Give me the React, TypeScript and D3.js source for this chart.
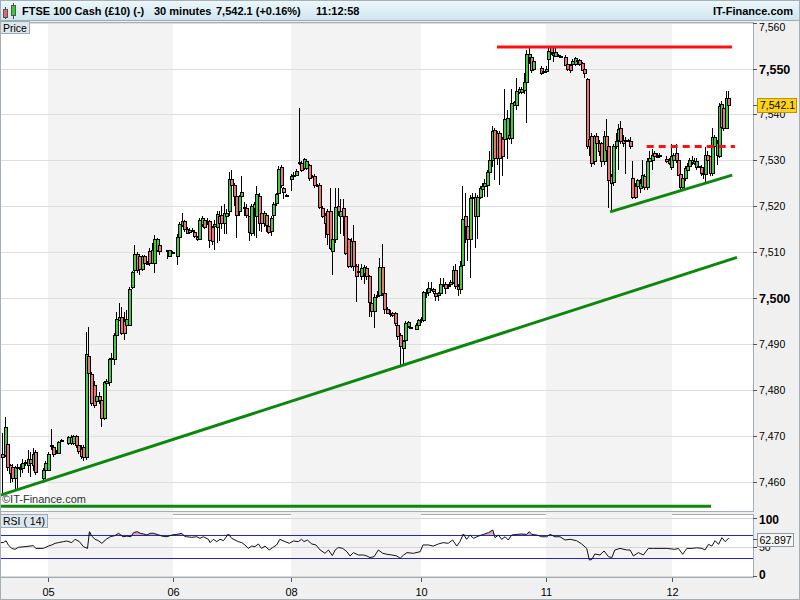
import React from 'react';
import * as d3 from 'd3';

const FONT = '"Liberation Sans", Arial, Helvetica, sans-serif';

// 30-minute candles [open, high, low, close]; null = empty slot
type Candle = [number, number, number, number] | null;
const ohlc: Candle[] = [
  [7466.2, 7470.6, 7457.5, 7465.4], [7465.9, 7474.2, 7465.5, 7471.9], [7468.3, 7469.0, 7462.5, 7463.3], [7463.7, 7464.0, 7459.7, 7462.0],
  [7463.3, 7464.0, 7460.0, 7460.8], [7460.8, 7463.5, 7458.0, 7463.2], [7463.0, 7464.0, 7458.5, 7463.2], [7463.0, 7464.0, 7461.0, 7463.0],
  [7463.0, 7465.0, 7462.0, 7464.1], [7464.1, 7464.8, 7463.5, 7464.3], [7463.7, 7467.0, 7462.0, 7464.9], [7465.1, 7466.5, 7461.0, 7464.1],
  [7463.7, 7467.5, 7462.5, 7466.1], [7466.6, 7467.0, 7461.5, 7462.2], null, null,
  [7460.8, 7463.0, 7459.7, 7462.7], [7462.7, 7464.5, 7461.5, 7464.1], [7462.7, 7466.5, 7462.5, 7466.2], [7468.1, 7471.5, 7467.0, 7468.1],
  [7467.7, 7468.0, 7465.5, 7466.2], [7466.5, 7467.0, 7466.0, 7466.5], [7466.4, 7469.0, 7466.0, 7468.6], [7469.1, 7469.3, 7468.8, 7469.1],
  null, null,
  [7468.4, 7470.0, 7468.0, 7469.7], [7469.7, 7470.2, 7468.0, 7468.4], [7468.4, 7470.2, 7468.0, 7470.0], [7470.0, 7470.2, 7467.5, 7468.1],
  [7468.1, 7468.5, 7466.0, 7466.7], [7467.2, 7468.0, 7465.0, 7465.7], [7467.7, 7468.0, 7464.5, 7465.5], [7465.5, 7492.7, 7464.8, 7487.8],
  [7487.4, 7493.8, 7483.0, 7483.7], [7483.4, 7484.0, 7476.5, 7477.1], [7481.1, 7482.0, 7476.0, 7476.8], [7477.7, 7479.5, 7476.5, 7478.8],
  [7478.8, 7479.5, 7477.0, 7477.9], [7477.9, 7478.5, 7471.9, 7473.9], [7473.9, 7482.0, 7473.5, 7481.7], [7481.5, 7482.5, 7481.0, 7481.9],
  [7481.7, 7487.0, 7481.0, 7486.7], [7486.9, 7488.0, 7485.0, 7486.9], [7486.7, 7492.5, 7485.5, 7492.0], [7492.0, 7497.0, 7491.5, 7495.4],
  [7495.3, 7499.0, 7495.0, 7496.0], [7496.0, 7498.0, 7492.0, 7492.5], [7495.1, 7497.0, 7491.0, 7492.4], [7494.2, 7497.5, 7493.5, 7495.4],
  [7494.2, 7502.5, 7494.0, 7502.0], [7502.4, 7506.0, 7502.0, 7505.6], [7506.2, 7511.5, 7505.5, 7509.6], [7509.6, 7510.0, 7505.5, 7506.2],
  [7509.1, 7509.5, 7505.0, 7506.3], [7506.3, 7509.5, 7506.0, 7509.2], [7509.2, 7509.5, 7507.0, 7507.6], [7507.6, 7508.0, 7507.2, 7507.6],
  [7510.2, 7511.0, 7507.0, 7507.6], [7507.6, 7512.0, 7507.5, 7510.5], [7507.6, 7513.8, 7505.5, 7512.9], [7510.5, 7513.0, 7510.0, 7512.8],
  [7511.5, 7512.5, 7509.5, 7510.2], null, null,
  [7510.4, 7510.6, 7508.5, 7510.4], [7509.2, 7510.5, 7509.0, 7510.4], [7510.0, 7510.2, 7509.8, 7510.0], null,
  [7509.2, 7514.0, 7507.3, 7513.3], [7513.3, 7516.5, 7513.0, 7516.1], [7516.0, 7518.5, 7515.5, 7516.9], [7516.9, 7517.0, 7514.5, 7515.0],
  [7515.0, 7515.5, 7514.0, 7514.3], [7514.5, 7515.2, 7514.2, 7514.9], [7514.7, 7515.2, 7514.5, 7514.9], [7514.5, 7514.6, 7513.0, 7513.6],
  [7513.3, 7513.5, 7512.5, 7512.9], [7512.9, 7517.5, 7512.6, 7517.1], [7516.1, 7518.0, 7515.5, 7517.4], [7517.1, 7517.5, 7515.0, 7515.5],
  [7516.9, 7517.5, 7516.0, 7516.9], [7516.7, 7517.0, 7511.0, 7512.6], [7515.5, 7515.7, 7511.5, 7512.4], [7515.7, 7517.0, 7510.5, 7516.2],
  [7515.5, 7519.0, 7512.0, 7518.4], [7518.0, 7519.0, 7512.5, 7516.3], [7518.2, 7520.0, 7515.0, 7516.3], [7516.3, 7520.5, 7514.0, 7518.5],
  [7517.8, 7519.5, 7514.0, 7518.5], [7518.9, 7527.5, 7518.0, 7526.0], [7526.0, 7528.0, 7524.0, 7524.7], [7524.7, 7525.0, 7520.0, 7522.2],
  [7522.2, 7523.0, 7513.0, 7518.2], [7518.9, 7522.5, 7518.0, 7522.2], [7522.2, 7526.5, 7521.5, 7523.1], [7519.8, 7521.0, 7518.0, 7519.8],
  [7519.6, 7520.5, 7517.5, 7518.2], [7517.8, 7518.0, 7512.5, 7514.5], [7514.1, 7520.5, 7513.5, 7520.0], [7519.7, 7521.0, 7513.5, 7520.4],
  [7517.9, 7524.4, 7513.0, 7522.6], [7522.2, 7523.0, 7514.6, 7516.4], [7518.6, 7519.0, 7514.5, 7516.3], [7516.4, 7519.0, 7515.5, 7518.6],
  [7518.2, 7518.5, 7514.5, 7516.0], [7515.7, 7516.0, 7514.0, 7514.4], [7514.6, 7518.0, 7513.5, 7517.5], [7518.2, 7521.0, 7516.5, 7520.6],
  [7520.8, 7523.0, 7520.0, 7522.6], [7522.9, 7528.8, 7520.5, 7528.2], [7528.6, 7529.0, 7524.0, 7524.7], [7524.0, 7524.2, 7521.5, 7523.1],
  [7522.4, 7522.6, 7522.2, 7522.4], null,
  [7526.0, 7527.0, 7523.3, 7526.6], [7526.9, 7527.5, 7526.0, 7526.6], [7526.8, 7528.2, 7526.5, 7527.7], [7529.6, 7541.5, 7529.0, 7529.6],
  [7529.5, 7529.8, 7527.5, 7527.9], [7528.4, 7530.5, 7528.0, 7530.2], [7528.4, 7530.3, 7528.0, 7529.8], [7528.9, 7529.3, 7525.5, 7526.2],
  [7526.7, 7526.9, 7526.5, 7526.7], [7526.6, 7527.0, 7524.0, 7524.7], [7524.7, 7524.9, 7524.5, 7524.7], [7524.7, 7525.0, 7519.5, 7519.9],
  [7519.7, 7520.0, 7517.5, 7517.9], [7518.2, 7518.5, 7513.0, 7516.4], [7518.9, 7519.5, 7511.5, 7513.9], [7518.9, 7524.0, 7510.5, 7511.0],
  [7510.2, 7513.5, 7505.1, 7512.8], [7512.8, 7524.0, 7512.0, 7519.8], [7520.0, 7524.0, 7518.0, 7518.9], [7517.9, 7521.5, 7514.0, 7518.9],
  [7519.7, 7521.5, 7513.5, 7517.9], [7517.9, 7518.0, 7509.5, 7509.9], [7512.8, 7513.0, 7506.5, 7507.0], [7507.0, 7513.0, 7506.5, 7512.5],
  [7512.4, 7516.0, 7506.0, 7507.0], [7507.0, 7507.5, 7499.1, 7504.8], [7505.9, 7507.5, 7505.0, 7505.9], [7504.8, 7507.5, 7504.0, 7506.6],
  [7505.4, 7507.2, 7503.0, 7506.8], [7506.6, 7507.0, 7504.0, 7504.8], [7504.8, 7505.0, 7495.9, 7499.1], [7499.0, 7499.5, 7496.0, 7497.2],
  [7497.2, 7501.0, 7493.5, 7500.3], [7500.4, 7501.5, 7500.0, 7500.8], [7500.8, 7508.8, 7500.5, 7506.8], [7506.8, 7511.7, 7500.5, 7501.1],
  [7501.1, 7501.5, 7496.5, 7497.7], [7497.7, 7498.0, 7496.5, 7496.8], [7496.8, 7497.5, 7496.0, 7496.8], [7496.8, 7497.0, 7496.0, 7496.4],
  [7496.8, 7497.0, 7494.0, 7494.6], [7494.2, 7494.5, 7491.0, 7491.7], [7492.1, 7492.5, 7485.2, 7489.5], [7489.2, 7491.0, 7485.2, 7490.6],
  [7491.0, 7495.0, 7490.5, 7494.6], [7494.0, 7495.0, 7493.5, 7494.8], [7493.7, 7493.9, 7493.5, 7493.7], null,
  [7493.2, 7494.5, 7493.0, 7494.1], [7494.1, 7495.5, 7493.5, 7495.2], [7495.5, 7496.0, 7494.5, 7495.2], [7495.2, 7501.6, 7494.8, 7501.4],
  [7501.4, 7502.0, 7500.0, 7501.4], [7501.4, 7503.5, 7500.5, 7502.2], [7502.0, 7503.5, 7501.5, 7502.0], [7502.0, 7502.2, 7501.0, 7501.5],
  [7501.1, 7501.5, 7499.5, 7500.4], [7500.6, 7501.3, 7499.5, 7501.1], [7501.1, 7504.5, 7500.8, 7503.0], [7503.0, 7504.3, 7502.5, 7503.0],
  [7503.0, 7503.5, 7501.0, 7502.3], [7502.9, 7503.2, 7502.0, 7502.9], [7503.0, 7504.0, 7502.5, 7503.5], [7503.5, 7507.0, 7503.0, 7506.2],
  [7506.2, 7507.5, 7502.0, 7502.6], [7502.6, 7503.0, 7500.5, 7501.9], [7501.9, 7508.0, 7501.0, 7507.1], [7507.3, 7524.4, 7504.4, 7517.3],
  [7517.9, 7523.0, 7512.0, 7515.7], [7515.7, 7516.0, 7508.0, 7512.9], [7512.8, 7522.5, 7504.4, 7521.8], [7521.8, 7523.0, 7521.0, 7522.1],
  [7522.1, 7523.0, 7511.0, 7517.9], [7517.9, 7522.5, 7512.9, 7522.1], [7522.1, 7524.4, 7521.5, 7524.0], [7523.8, 7525.1, 7523.0, 7524.4],
  [7524.5, 7526.0, 7522.0, 7525.1], [7524.7, 7528.0, 7522.0, 7527.4], [7527.4, 7532.0, 7525.0, 7530.0], [7530.0, 7537.5, 7528.5, 7536.4],
  [7536.6, 7537.0, 7525.8, 7530.5], [7536.0, 7536.5, 7529.0, 7530.5], [7536.0, 7536.5, 7524.7, 7530.5], [7534.7, 7535.0, 7526.5, 7530.9],
  [7534.7, 7545.5, 7534.0, 7538.9], [7534.9, 7541.0, 7530.3, 7539.3], [7535.6, 7536.0, 7534.5, 7534.9], [7534.9, 7545.5, 7533.5, 7542.4],
  [7542.0, 7543.0, 7542.0, 7542.6], [7542.0, 7548.0, 7541.0, 7545.1], [7545.5, 7546.0, 7544.5, 7544.9], [7544.9, 7546.0, 7544.5, 7545.5],
  [7545.3, 7549.0, 7544.5, 7547.1], [7547.1, 7554.0, 7538.2, 7553.1], [7552.4, 7555.0, 7551.0, 7553.1], [7552.4, 7553.0, 7549.0, 7549.7],
  [7549.9, 7552.0, 7549.5, 7551.7], null, null,
  [7550.2, 7550.5, 7548.5, 7549.1], [7549.5, 7549.7, 7549.3, 7549.5], [7549.5, 7550.5, 7549.0, 7550.0], [7552.0, 7554.5, 7550.0, 7553.9],
  [7554.6, 7555.0, 7553.0, 7553.5], [7552.9, 7554.0, 7551.5, 7553.4], [7552.8, 7554.5, 7552.5, 7553.6], [7552.9, 7553.1, 7552.7, 7552.9],
  [7552.8, 7553.0, 7552.6, 7552.8], null,
  [7552.4, 7553.0, 7550.5, 7550.7], [7550.9, 7551.0, 7549.5, 7550.0], [7550.7, 7551.0, 7549.0, 7549.7], [7550.9, 7552.0, 7550.5, 7551.7],
  [7550.9, 7552.5, 7550.5, 7552.2], [7551.9, 7552.1, 7551.7, 7551.9], [7551.9, 7552.0, 7550.5, 7550.9], [7551.2, 7551.5, 7549.5, 7549.7],
  [7549.9, 7550.0, 7548.0, 7549.0], [7547.8, 7548.0, 7532.5, 7533.1], [7534.7, 7535.0, 7531.0, 7533.1], [7535.3, 7536.0, 7528.5, 7529.4],
  [7529.8, 7535.6, 7529.0, 7535.3], [7535.4, 7536.0, 7533.0, 7533.8], [7533.8, 7534.5, 7531.0, 7532.0], [7533.8, 7534.0, 7528.5, 7529.8],
  [7529.8, 7536.5, 7529.0, 7535.4], [7535.3, 7539.0, 7531.5, 7532.3], [7533.1, 7534.0, 7519.6, 7525.8], [7526.5, 7527.0, 7519.2, 7525.0],
  [7525.4, 7533.5, 7524.5, 7533.2], [7533.2, 7536.0, 7532.5, 7534.2], [7534.5, 7538.0, 7528.0, 7536.9], [7537.1, 7538.5, 7533.5, 7534.2],
  [7534.5, 7535.5, 7533.0, 7533.8], [7534.5, 7535.0, 7527.0, 7534.2], [7534.5, 7534.7, 7534.3, 7534.5], [7534.2, 7535.0, 7532.5, 7533.1],
  [7526.1, 7529.8, 7521.5, 7522.1], [7524.5, 7525.0, 7521.5, 7522.1], [7524.5, 7526.0, 7523.5, 7525.8], [7523.9, 7526.0, 7523.0, 7525.0],
  [7524.5, 7530.0, 7524.0, 7526.9], [7526.6, 7527.0, 7523.5, 7524.2], [7524.2, 7530.5, 7523.5, 7529.8], [7529.8, 7532.0, 7529.0, 7530.5],
  [7530.0, 7532.5, 7528.0, 7531.2], [7531.6, 7532.0, 7530.0, 7530.9], [7530.9, 7531.5, 7530.5, 7530.9], [7530.9, 7531.5, 7530.5, 7531.2],
  null, null,
  [7530.3, 7531.0, 7529.5, 7529.8], [7530.1, 7530.5, 7529.0, 7529.4], [7528.5, 7533.5, 7528.0, 7530.9], [7530.1, 7531.5, 7530.0, 7531.2],
  [7531.6, 7533.5, 7529.5, 7530.0], [7530.1, 7530.5, 7526.5, 7526.9], [7527.1, 7527.5, 7523.5, 7524.2], [7524.2, 7526.5, 7523.5, 7526.1],
  [7526.1, 7528.8, 7525.5, 7528.3], [7527.8, 7529.5, 7527.5, 7528.8], [7528.8, 7530.5, 7528.5, 7530.1], [7530.1, 7531.0, 7529.0, 7529.6],
  [7529.4, 7530.5, 7529.0, 7529.8], [7528.5, 7530.5, 7528.0, 7529.8], [7528.8, 7529.0, 7528.6, 7528.8], [7528.5, 7529.0, 7526.5, 7527.2],
  [7527.2, 7528.0, 7526.0, 7527.2], [7527.1, 7533.0, 7525.0, 7531.2], [7531.2, 7532.0, 7529.5, 7530.1], [7530.9, 7531.0, 7526.5, 7527.2],
  [7527.2, 7537.0, 7526.5, 7535.1], [7533.2, 7535.5, 7532.0, 7535.0], [7531.2, 7534.5, 7529.0, 7533.8], [7530.9, 7542.5, 7530.5, 7541.8],
  [7537.3, 7543.0, 7537.0, 7542.2], [7541.5, 7541.8, 7536.5, 7537.1], [7537.1, 7545.1, 7536.8, 7543.6], [7543.6, 7545.1, 7541.5, 7542.1],
];

// RSI(14): [slot, value]
const rsiPoints: [number, number][] = [
  [-1.2, 57], [0.1, 57], [1.2, 60], [2.1, 52.9], [3.4, 47], [4.7, 45.4], [6, 48.9], [8.6, 50], [11.8, 51.7], [12.9, 47], [15.8, 47],
  [17.7, 51], [19.1, 52.9], [20.4, 55.7], [21.7, 56.9], [23.7, 58.6], [25, 59.7], [27, 56.9], [28.3, 62.6], [30, 58.6], [31.6, 50],
  [33.2, 47], [34, 75.7], [34.9, 68], [36.2, 62.6], [37.5, 60.3], [38.9, 55.7], [40.6, 62.6], [42.2, 67], [44.1, 69], [45.5, 72.9],
  [47.2, 67], [48.8, 68], [50.4, 67], [51.4, 74], [52.8, 75.7], [54.1, 72.9], [55.4, 71.7], [56.7, 70], [58, 72.9], [59.3, 72.9],
  [60.7, 71], [62.7, 68], [64.6, 67], [66.6, 70], [68.5, 71], [70.5, 72.9], [71.6, 68], [72.5, 67], [74.6, 66], [76.6, 67], [77.9, 64.3],
  [79.3, 67], [81.3, 62.6], [82, 56.9], [83.3, 62.6], [84.7, 58.6], [86, 62.6], [87.4, 60.3], [89.4, 71.7], [90.7, 64.3], [92.1, 61.4],
  [93.4, 58.6], [94.8, 56.9], [96.1, 52.9], [97.4, 47], [98.8, 51], [100.1, 50], [101.5, 54.6], [102.8, 47], [104.2, 51], [105.9, 44.3],
  [107.3, 48.6], [108.9, 52.9], [110.2, 62.6], [112.3, 58.6], [114, 55.7], [115.6, 59.7], [117.5, 58.6], [118.8, 62.6], [119.7, 58.6],
  [121, 61.4], [122.7, 54.6], [124.3, 52.9], [125.9, 44.3], [127.8, 38.6], [129.1, 44.3], [130.6, 34.6], [131.7, 44.3], [132.9, 48.6],
  [134.6, 47], [136.2, 41.4], [137.4, 34], [138.7, 39.7], [140.6, 35.7], [142.6, 35.7], [143.9, 34], [145.1, 31.1], [146.7, 33],
  [148.3, 44.3], [150, 38.6], [151.6, 36.9], [153.5, 35.7], [155.4, 34], [156.7, 30], [158, 35.7], [159.3, 39.7], [161.8, 38.6],
  [164.4, 41.4], [165.5, 52.9], [167.7, 52.9], [169.7, 51], [171.8, 54.6], [173.8, 56.9], [175.8, 55.7], [177.6, 61.4], [179.3, 51],
  [180.6, 58.6], [182, 71.7], [183.3, 62.6], [184.7, 70], [186.1, 64.3], [188.1, 68], [190.1, 70.9], [192.2, 74], [194, 78.6],
  [194.9, 65.4], [196.3, 70], [197.6, 62.6], [199, 67], [200.3, 61.4], [201.7, 70], [203.8, 71], [205.8, 71.7], [207.8, 71],
  [208.9, 75.7], [209.9, 71], [211.9, 70], [214, 67], [216, 67], [217.4, 71], [219.4, 67], [221.5, 67], [223.6, 61.4], [225.7, 62.6],
  [228.4, 60.3], [230.5, 54.6], [232.6, 47], [233.7, 27], [234.7, 28], [236, 37.4], [238.1, 35.7], [239.8, 42.6], [241.6, 33],
  [243, 31], [244.3, 44.3], [246.4, 47], [249.2, 44.3], [250.6, 44.3], [252, 34], [254, 39.7], [256.1, 35.7], [258.2, 47], [260.3, 47],
  [263, 47], [265.8, 47], [269.3, 45.4], [270.8, 47], [272.7, 36.9], [274.5, 47], [276.7, 47], [278.9, 48], [281.1, 47], [282.5, 44.3],
  [284, 54], [285.5, 51], [286.9, 60.3], [288.4, 54], [289.9, 65.4], [291.3, 58.6], [292.8, 64.3], [293, 62.9],
];

const dayLabels = ['05', '06', '08', '10', '11', '12'];
const daySlots = [17.6, 67, 114.7, 164.7, 215.7, 268];
const priceTicks = d3.range(7460, 7561, 10);
const rsiTicks = [0, 50, 100];
const rsiLevels = [30, 70];
const lastPrice = 7542.1;
const lastRsi = 62.897;

// drawn annotations [slot, price]
const supportLong: [number, number][] = [[-1.2, 7457.1], [296.5, 7508.9]];
const baseLine: [number, number][] = [[-1.2, 7454.7], [285.1, 7454.7]];
const supportShort: [number, number][] = [[242.3, 7518.8], [294.4, 7526.8]];
const resistance: [number, number][] = [[195.7, 7554.7], [294.3, 7554.7]];
const breakoutLevel: [number, number][] = [[257.5, 7533.0], [295.6, 7533.0]];

const titleText = 'FTSE 100 Cash (£10) (-)';
const periodText = '30 minutes';
const quoteText = '7,542.1 (+0.16%)';
const timeText = '11:12:58';
const brandText = 'IT-Finance.com';

// layout
const PLOT_R = 753;
const P_TOP = 23, P_BOT = 511;
const R_TOP = 514, R_BOT = 577;
const anchorX = [3, 48, 173, 291, 421, 546, 672, 729];

export default function App() {
  const lastSlot = ohlc.length - 1;
  const x = d3.scaleLinear().domain([0, ...daySlots, lastSlot]).range(anchorX);
  const y = d3.scaleLinear().domain([7460, 7550]).range([482, 68.5]);
  const ry = d3.scaleLinear().domain([0, 100]).range([575.8, 517.5]);
  const fmt = d3.format(',');
  const fmt1 = d3.format(',.1f');

  const segLine = d3.line<[number, number]>().x(d => x(d[0])).y(d => y(d[1]));
  const rsiLine = d3.line<[number, number]>().x(d => x(d[0])).y(d => ry(d[1]));
  const rsiArea = d3.area<[number, number]>().x(d => x(d[0])).y0(ry(70)).y1(d => ry(Math.max(70, d[1])));

  const bandPairs = [[0, 1], [2, 3], [4, 5]];
  const greenLine = '#0b870b';
  const red = '#ff1010';

  return (
    <div style={{ position: 'absolute', left: 0, top: 0 }}>
      <svg width={800} height={600} style={{ display: 'block', fontFamily: FONT }}>
        <defs>
          <linearGradient id="hdr" x1="0" y1="0" x2="0" y2="1">
            <stop offset="0" stopColor="#eef8fb" />
            <stop offset="1" stopColor="#cfe6ef" />
          </linearGradient>
          <clipPath id="pclip"><rect x={1} y={P_TOP} width={PLOT_R - 1} height={P_BOT - P_TOP} /></clipPath>
          <clipPath id="rclip"><rect x={1} y={R_TOP} width={PLOT_R - 1} height={R_BOT - R_TOP} /></clipPath>
        </defs>
        <rect x={0} y={0} width={800} height={600} fill="#f0f0f0" />

        {/* header */}
        <rect x={0} y={0} width={800} height={20} fill="url(#hdr)" />
        <line x1={0} x2={800} y1={0.5} y2={0.5} stroke="#9aabb5" />
        <line x1={0} x2={800} y1={20.5} y2={20.5} stroke="#9aabb5" />
        <g shapeRendering="crispEdges">
          <line x1={5.5} x2={5.5} y1={7} y2={19} stroke="#444" />
          <rect x={3.5} y={9.5} width={4} height={8} fill="#e06a6a" stroke="#555" />
          <line x1={13.5} x2={13.5} y1={3} y2={19} stroke="#444" />
          <rect x={11.5} y={5.5} width={4} height={10} fill="#33cc33" stroke="#555" />
        </g>
        <g fontSize={11} fontWeight="bold" fill="#000">
          <text x={22} y={15}>{titleText}</text>
          <text x={154} y={15}>{periodText}</text>
          <text x={216} y={15}>{quoteText}</text>
          <text x={316} y={15}>{timeText}</text>
          <text x={793} y={15} textAnchor="end">{brandText}</text>
        </g>

        {/* price panel */}
        <rect x={0.5} y={P_TOP - 0.5} width={PLOT_R} height={P_BOT - P_TOP + 1} fill="#fff" stroke="#a4aeb6" />
        <g clipPath="url(#pclip)">
          {bandPairs.map(([a, b]) => (
            <rect key={a} x={x(daySlots[a])} y={P_TOP} width={x(daySlots[b]) - x(daySlots[a])} height={P_BOT - P_TOP} fill="#f3f3f3" />
          ))}
          {priceTicks.map(v => (
            <line key={v} x1={0} x2={PLOT_R} y1={Math.round(y(v)) + 0.5} y2={Math.round(y(v)) + 0.5} stroke="#dedede" />
          ))}
          <g shapeRendering="crispEdges">
            {ohlc.map((c, i) => {
              if (!c) return null;
              const [o, h, l, cl] = c;
              const cx = Math.round(x(i));
              const top = Math.round(y(Math.max(o, cl)));
              const bot = Math.round(y(Math.min(o, cl)));
              const hgt = Math.max(1, bot - top);
              return (
                <g key={i}>
                  <line x1={cx - 0.5} x2={cx - 0.5} y1={Math.round(y(h))} y2={Math.round(y(l))} stroke="#000" />
                  <rect x={cx - 2} y={top + 0.5} width={3} height={hgt} fill={cl >= o ? '#3fcc3f' : '#ec7474'} stroke="#000" />
                </g>
              );
            })}
          </g>
          <path d={segLine(supportLong) || ''} stroke={greenLine} strokeWidth={3} fill="none" />
          <path d={segLine(baseLine) || ''} stroke={greenLine} strokeWidth={3} fill="none" />
          <path d={segLine(supportShort) || ''} stroke={greenLine} strokeWidth={3} fill="none" />
          <path d={segLine(resistance) || ''} stroke={red} strokeWidth={3} fill="none" />
          <path d={segLine(breakoutLevel) || ''} stroke={red} strokeWidth={3} fill="none" strokeDasharray="7,5" />
        </g>
        <text x={2} y={503} fontSize={11} fill="#333">©IT-Finance.com</text>
        <rect x={0.5} y={21.5} width={29} height={12} fill="#dde7ee" stroke="#9aaab6" />
        <text x={3} y={31.5} fontSize={10.5} fill="#000">Price</text>

        {/* price axis */}
        {priceTicks.map(v => {
          const yy = Math.round(y(v)) + 0.5;
          const bold = v % 50 === 0;
          const ty = yy < 30 ? 27.5 : yy;
          return (
            <g key={v}>
              <line x1={PLOT_R} x2={PLOT_R + 4} y1={yy} y2={yy} stroke="#555" />
              <text x={759} y={ty} dy="0.36em" fontSize={bold ? 12.5 : 10.5} fontWeight={bold ? 'bold' : 'normal'} fill="#000">{fmt(v)}</text>
            </g>
          );
        })}
        <line x1={PLOT_R} x2={PLOT_R + 4} y1={Math.round(y(lastPrice)) + 0.5} y2={Math.round(y(lastPrice)) + 0.5} stroke="#555" />
        <rect x={757.5} y={Math.round(y(lastPrice)) - 6.5} width={39} height={14} fill="#ffd21a" stroke="#b89400" />
        <text x={760} y={Math.round(y(lastPrice)) + 0.5} dy="0.36em" fontSize={10.5} fill="#000">{fmt1(lastPrice)}</text>

        {/* RSI panel */}
        <rect x={0.5} y={R_TOP + 0.5} width={PLOT_R} height={R_BOT - R_TOP} fill="#fff" stroke="#a4aeb6" />
        <g clipPath="url(#rclip)">
          {bandPairs.map(([a, b]) => (
            <rect key={a} x={x(daySlots[a])} y={R_TOP} width={x(daySlots[b]) - x(daySlots[a])} height={R_BOT - R_TOP} fill="#f3f3f3" />
          ))}
          {rsiTicks.map(v => (
            <line key={v} x1={0} x2={PLOT_R} y1={Math.round(ry(v)) + 0.5} y2={Math.round(ry(v)) + 0.5} stroke="#d6d6d6" />
          ))}
          <path d={rsiArea(rsiPoints) || ''} fill="#dcaaaa" />
          {rsiLevels.map(v => (
            <line key={v} x1={0} x2={PLOT_R} y1={Math.round(ry(v)) + 0.5} y2={Math.round(ry(v)) + 0.5} stroke="#2626d0" strokeWidth={1.2} />
          ))}
          <path d={rsiLine(rsiPoints) || ''} fill="none" stroke="#111" strokeWidth={1} />
        </g>
        <rect x={0.5} y={R_TOP + 0.5} width={47} height={13} fill="#dde7ee" stroke="#9aaab6" />
        <text x={3} y={R_TOP + 11} fontSize={10.5} fill="#000">RSI ( 14)</text>

        {/* RSI axis */}
        {rsiTicks.map(v => {
          const yy = Math.round(ry(v)) + 0.5;
          const bold = v !== 50;
          const ty = v === 0 ? yy - 2 : v === 100 ? yy + 1 : yy;
          return (
            <g key={v}>
              <line x1={PLOT_R} x2={PLOT_R + 4} y1={yy} y2={yy} stroke="#555" />
              <text x={759} y={ty} dy="0.36em" fontSize={bold ? 12 : 10.5} fontWeight={bold ? 'bold' : 'normal'} fill="#000">{v}</text>
            </g>
          );
        })}
        <line x1={PLOT_R} x2={PLOT_R + 4} y1={Math.round(ry(lastRsi)) + 0.5} y2={Math.round(ry(lastRsi)) + 0.5} stroke="#555" />
        <rect x={757.5} y={Math.round(ry(lastRsi)) - 5.5} width={36} height={13} fill="#f6f6f6" stroke="#8d9ba5" />
        <text x={759.5} y={Math.round(ry(lastRsi)) + 1} dy="0.36em" fontSize={10.5} fill="#000">{lastRsi}</text>

        {/* x axis */}
        {dayLabels.map((lab, k) => {
          const xx = Math.round(x(daySlots[k])) + 0.5;
          return (
            <g key={lab}>
              <line x1={xx} x2={xx} y1={R_BOT + 1} y2={R_BOT + 5} stroke="#555" />
              <text x={xx} y={596} textAnchor="middle" fontSize={11} fill="#000">{lab}</text>
            </g>
          );
        })}
        <rect x={0.5} y={0.5} width={799} height={599} fill="none" stroke="#a4aeb6" />
      </svg>
    </div>
  );
}
